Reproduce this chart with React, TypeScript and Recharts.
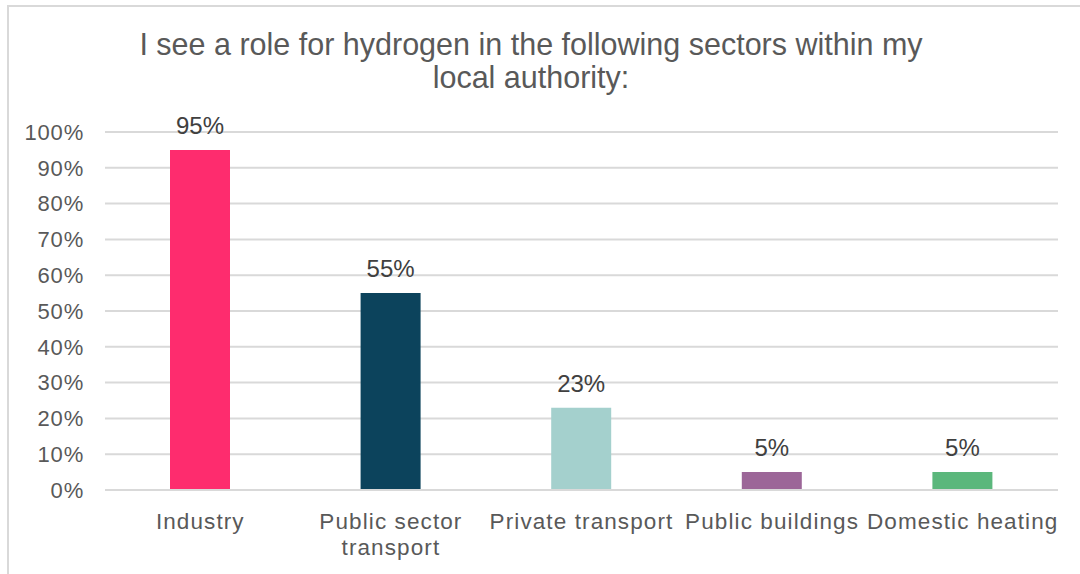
import React from "react";
import { BarChart, Bar, XAxis, YAxis, CartesianGrid, Cell, LabelList } from "recharts";

const categories = [
  "Industry",
  "Public sector\ntransport",
  "Private transport",
  "Public buildings",
  "Domestic heating",
];
const shares = [0.95, 0.55, 0.23, 0.05, 0.05];
const barColors = ["#FE2C6E", "#0C435C", "#A4D0CD", "#9C6698", "#5BB77C"];
const yTicks = [0, 0.1, 0.2, 0.3, 0.4, 0.5, 0.6, 0.7, 0.8, 0.9, 1];
const titleLines = [
  "I see a role for hydrogen in the following sectors within my",
  "local authority:",
];

const data = categories.map((c, i) => ({ category: c, value: shares[i] }));

const FONT = "'Liberation Sans', Arial, sans-serif";
const pct = (v: number) => `${Math.round(v * 100)}%`;

const CategoryTick = ({ x, y, payload }: any) => {
  const lines = String(payload.value).split("\n");
  return (
    <text
      x={x}
      y={y}
      textAnchor="middle"
      fill="#595959"
      style={{ fontFamily: FONT, fontSize: 22.5, letterSpacing: 1.1 }}
    >
      {lines.map((line, i) => (
        <tspan key={i} x={x} dy={i === 0 ? 39 : 26}>
          {line}
        </tspan>
      ))}
    </text>
  );
};

export default function App() {
  return (
    <div style={{ position: "absolute", left: 0, top: 0, width: 1080, height: 574, background: "#fff" }}>
      <div
        style={{
          position: "absolute",
          left: 7,
          top: 5,
          width: 1100,
          height: 600,
          border: "2px solid #D9D9D9",
          boxSizing: "border-box",
        }}
      />
      <BarChart
        width={1080}
        height={574}
        data={data}
        margin={{ top: 132, right: 22, left: 0, bottom: 0 }}
        barSize={60}
      >
        <CartesianGrid vertical={false} stroke="#D9D9D9" strokeWidth={2} />
        <XAxis
          dataKey="category"
          height={84}
          interval={0}
          tickLine={false}
          tickSize={0}
          tickMargin={0}
          axisLine={{ stroke: "#D9D9D9", strokeWidth: 2 }}
          tick={<CategoryTick />}
        />
        <YAxis
          type="number"
          domain={[0, 1]}
          ticks={yTicks}
          width={105}
          tickLine={false}
          tickSize={0}
          tickMargin={21}
          axisLine={false}
          tickFormatter={pct}
          tick={{ fill: "#595959", fontSize: 22, fontFamily: FONT, letterSpacing: 0.8 }}
        />
        <Bar dataKey="value" isAnimationActive={false}>
          {data.map((d, i) => (
            <Cell key={d.category} fill={barColors[i]} />
          ))}
          <LabelList
            dataKey="value"
            position="top"
            offset={16}
            formatter={(v: any) => pct(Number(v))}
            style={{ fill: "#404040", fontSize: 24, fontFamily: FONT }}
          />
        </Bar>
      </BarChart>
      <svg
        width={1080}
        height={110}
        style={{ position: "absolute", left: 0, top: 0, pointerEvents: "none" }}
      >
        {titleLines.map((line, i) => (
          <text
            key={i}
            x={531}
            y={55 + i * 33}
            textAnchor="middle"
            fill="#595959"
            style={{ fontFamily: FONT, fontSize: 30.5 }}
          >
            {line}
          </text>
        ))}
      </svg>
    </div>
  );
}
